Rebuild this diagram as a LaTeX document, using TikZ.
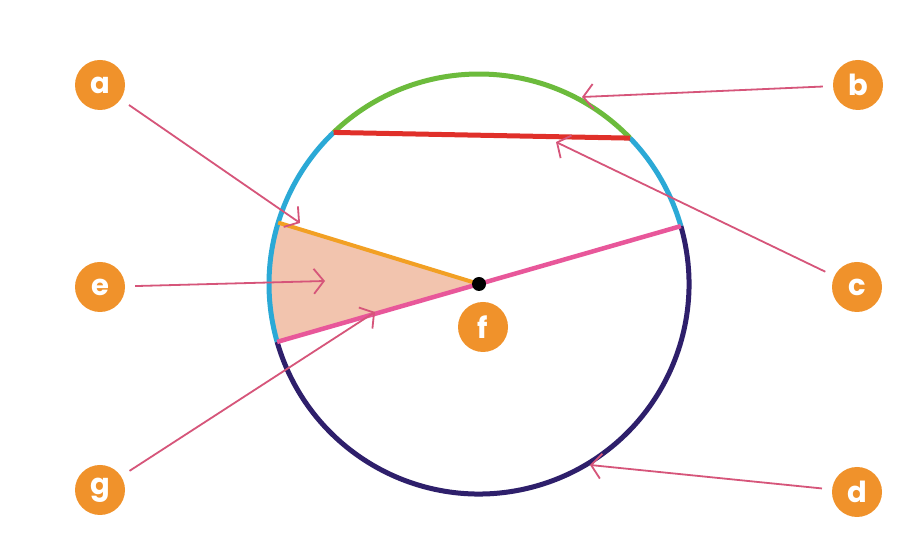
\documentclass[tikz,border=0pt]{standalone}
\usepackage{fontspec}
\setsansfont{Poppins}
\usetikzlibrary{arrows.meta,calc}
\definecolor{lblorange}{HTML}{F0922B}
\definecolor{arcgreen}{HTML}{6CBB3C}
\definecolor{chordred}{HTML}{E0302A}
\definecolor{arcblue}{HTML}{2BA9D6}
\definecolor{arcpurple}{HTML}{2E1F6B}
\definecolor{radorange}{HTML}{F2A024}
\definecolor{diampink}{HTML}{E8579A}
\definecolor{sectorfill}{HTML}{F2C4AE}
\definecolor{ptr}{HTML}{D6557A}
\begin{document}
\begin{tikzpicture}[x=1pt,y=1pt,
  lbl/.style={circle,fill=lblorange,text=white,minimum size=50pt,inner sep=0pt,
    font=\sffamily\bfseries\fontsize{29}{29}\selectfont},
  pointer/.style={draw=ptr,line width=1.8pt,shorten <=10pt,
    -{Straight Barb[length=10pt,width=25pt]}},
  rim/.style={line width=5pt}]
\useasboundingbox[fill=white] (0,0) rectangle (907,548);
\coordinate (O) at (479,264);
\def\R{210}
% sector
\fill[sectorfill] (O) -- ++(163:\R) arc[start angle=163,end angle=196,radius=\R] -- cycle;
% arcs
\draw[rim,arcgreen] ($(O)+(44:\R)$) arc[start angle=44,end angle=133.8,radius=\R];
\draw[rim,arcblue] ($(O)+(16:\R)$) arc[start angle=16,end angle=44,radius=\R];
\draw[rim,arcblue] ($(O)+(133.8:\R)$) arc[start angle=133.8,end angle=196,radius=\R];
\draw[rim,arcpurple] ($(O)+(196:\R)$) arc[start angle=196,end angle=376,radius=\R];
% chord
\coordinate (ch1) at ($(O)+(133.8:\R)$);
\coordinate (ch2) at ($(O)+(44:\R)$);
\draw[line width=5pt,chordred] (ch1) -- (ch2);
% radius and diameter
\coordinate (r1) at ($(O)+(163:\R)$);
\coordinate (d1) at ($(O)+(196:\R)$);
\coordinate (d2) at ($(O)+(16:\R)$);
\draw[line width=4pt,radorange] (O) -- (r1);
\draw[line width=4.5pt,diampink] (d1) -- (d2);
\fill[black] (O) circle[radius=7pt];
% labels
\node[lbl] (a) at (100,463) {a};
\node[lbl] (b) at (858,463) {b};
\node[lbl] (e) at (100,261) {e};
\node[lbl] (c) at (857,261) {c};
\node[lbl] (f) at (483,221) {f};
\node[lbl] (g) at (100,58) {g};
\node[lbl] (d) at (857,56) {d};
% targets
\coordinate (ta) at (300,325);
\coordinate (tb) at (582,451);
\coordinate (tc) at (556,406);
\coordinate (te) at (325,267);
\coordinate (tg) at (375,236);
\coordinate (td) at (590,83);
\draw[pointer] (a) -- (ta);
\draw[pointer] (b) -- (tb);
\draw[pointer] (c) -- (tc);
\draw[pointer] (e) -- (te);
\draw[pointer] (g) -- (tg);
\draw[pointer] (d) -- (td);
\end{tikzpicture}
\end{document}
